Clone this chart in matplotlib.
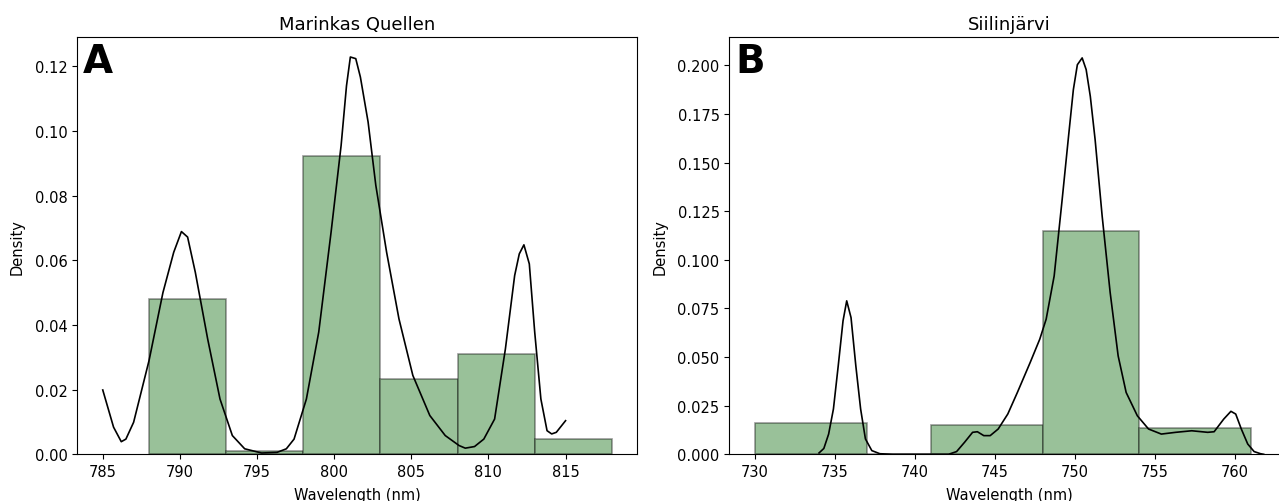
import matplotlib
matplotlib.use("Agg")
import matplotlib.pyplot as plt
import numpy as np

# Panel A: Marinkas Quellen
a_title = "Marinkas Quellen"
a_edges = [788, 793, 798, 803, 808, 813, 818]
a_heights = [0.0479, 0.0010, 0.0922, 0.0232, 0.0309, 0.0046]
a_kde_x = [785.0, 785.7, 786.2, 786.5, 787.0, 788.0, 788.9, 789.6, 790.1, 790.5,
           791.0, 791.8, 792.6, 793.4, 794.2, 795.3, 796.3, 796.9, 797.4, 798.2,
           799.0, 799.8, 800.45, 800.8, 801.05, 801.4, 801.7, 802.2, 802.7, 803.4,
           804.2, 805.1, 806.2, 807.2, 808.1, 808.5, 809.1, 809.7, 810.4, 811.1,
           811.7, 812.0, 812.3, 812.65, 813.0, 813.4, 813.8, 814.1, 814.4, 815.0]
a_kde_y = [0.0199, 0.0084, 0.0039, 0.0047, 0.0099, 0.0290, 0.0500, 0.0625, 0.0689, 0.0672,
           0.0563, 0.0357, 0.0171, 0.0058, 0.0017, 0.0004, 0.0006, 0.0017, 0.0047, 0.0171,
           0.0378, 0.0687, 0.0955, 0.1140, 0.1229, 0.1224, 0.1167, 0.1028, 0.0832, 0.0625,
           0.0419, 0.0244, 0.0120, 0.0058, 0.0027, 0.0019, 0.0024, 0.0047, 0.0109, 0.0326,
           0.0553, 0.0620, 0.0648, 0.0589, 0.0378, 0.0171, 0.0073, 0.0063, 0.0068, 0.0104]

# Panel B: Siilinjärvi
b_title = "Siilinjärvi"
b_edges = [730, 737, 741, 748, 754, 761]
b_heights = [0.0161, 0.0, 0.0152, 0.1148, 0.0135]
b_kde_x = [734.0, 734.3, 734.6, 734.9, 735.2, 735.5, 735.73, 736.0, 736.3, 736.6,
           736.9, 737.3, 737.8, 738.6, 742.1, 742.6, 743.1, 743.6, 743.9, 744.3,
           744.7, 745.2, 745.8, 746.4, 747.2, 747.8, 748.2, 748.7, 749.2, 749.6,
           749.9, 750.15, 750.45, 750.7, 750.96, 751.26, 751.7, 752.2, 752.7, 753.2,
           753.9, 754.6, 755.4, 756.3, 757.3, 758.3, 758.7, 759.3, 759.75, 760.05,
           760.4, 760.8, 761.2, 761.6, 761.8]
b_kde_y = [0.0007, 0.0030, 0.0104, 0.0233, 0.0455, 0.0686, 0.0789, 0.0703, 0.0455, 0.0233,
           0.0079, 0.0019, 0.0003, 0.0, 0.0, 0.0014, 0.0062, 0.0113, 0.0116, 0.0096,
           0.0096, 0.0130, 0.0207, 0.0318, 0.0472, 0.0592, 0.0695, 0.0917, 0.1310, 0.1636,
           0.1875, 0.2003, 0.2038, 0.1978, 0.1840, 0.1618, 0.1225, 0.0832, 0.0506, 0.0318,
           0.0198, 0.0130, 0.0104, 0.0113, 0.0121, 0.0113, 0.0116, 0.0181, 0.0221, 0.0207,
           0.0130, 0.0053, 0.0014, 0.0003, 0.0]

bar_face = "#99c199"
bar_edge = (0, 0, 0, 0.4)


def draw_panel(ax, edges, heights, kde_x, kde_y, title, letter, xlim, ylim, xticks, yticks, yfmt):
    widths = np.diff(edges)
    ax.bar(edges[:-1], heights, width=widths, align="edge",
           color=bar_face, edgecolor=bar_edge, linewidth=1.2)
    ax.plot(kde_x, kde_y, color="black", linewidth=1.2)
    ax.set_xlim(*xlim)
    ax.set_ylim(*ylim)
    ax.set_xticks(xticks)
    ax.set_yticks(yticks)
    ax.set_yticklabels([yfmt.format(v) for v in yticks])
    ax.set_xlabel("Wavelength (nm)", fontsize=10.5, labelpad=6)
    ax.set_ylabel("Density", fontsize=10.5, labelpad=7)
    ax.set_title(title, fontsize=13)
    ax.text(0.01, 0.917, letter, transform=ax.transAxes, fontsize=28,
            fontweight="bold", ha="left", va="baseline")
    ax.tick_params(labelsize=10.5)


fig = plt.figure(figsize=(12.79, 5.02), dpi=100)
W, H = 1279.0, 502.0
ax_a = fig.add_axes([77.3 / W, 46.7 / H, 560 / W, 417 / H])
ax_b = fig.add_axes([729.3 / W, 46.7 / H, 560 / W, 417 / H])

draw_panel(ax_a, a_edges, a_heights, a_kde_x, a_kde_y, a_title, "A",
           (783.35, 819.65), (0, 0.129),
           [785, 790, 795, 800, 805, 810, 815],
           [0.0, 0.02, 0.04, 0.06, 0.08, 0.10, 0.12], "{:.2f}")
draw_panel(ax_b, b_edges, b_heights, b_kde_x, b_kde_y, b_title, "B",
           (728.39, 763.4), (0, 0.2144),
           [730, 735, 740, 745, 750, 755, 760],
           [0.0, 0.025, 0.05, 0.075, 0.1, 0.125, 0.15, 0.175, 0.2], "{:.3f}")

plt.savefig("out.png", dpi=100)
